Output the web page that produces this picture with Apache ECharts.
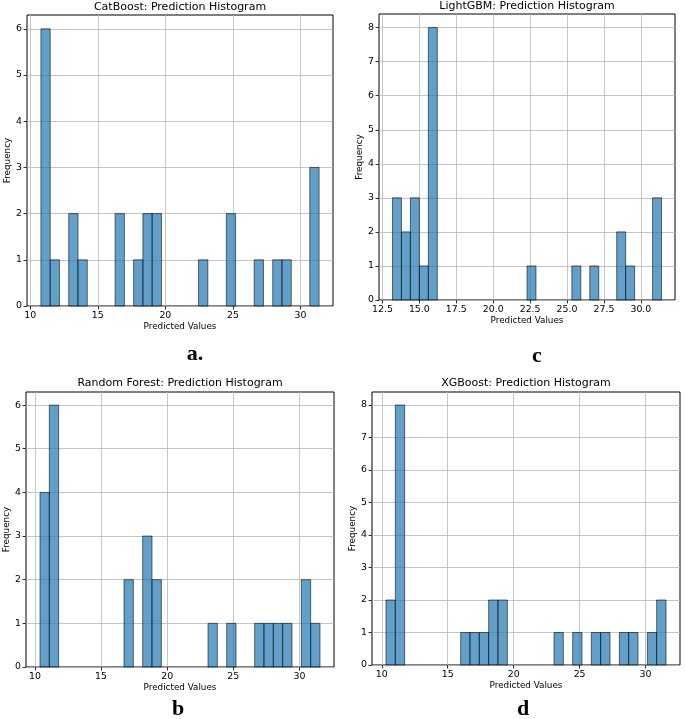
<!DOCTYPE html>
<html>
<head>
<meta charset="utf-8">
<script src="https://cdn.jsdelivr.net/npm/echarts@6/dist/echarts.min.js"></script>
<style>
html,body{margin:0;padding:0;background:#fff;}
#chart{width:685px;height:719px;}
</style>
</head>
<body>
<div id="chart"></div>
<script>
// ---- Data ----
const titles = [
  'CatBoost: Prediction Histogram',
  'LightGBM: Prediction Histogram',
  'Random Forest: Prediction Histogram',
  'XGBoost: Prediction Histogram'
];
const panelLetters = ['a.', 'c', 'b', 'd'];

// histogram range (first bin left edge, last bin right edge), 30 bins each
const catRange = [10.79, 31.38];
const lgbRange = [13.18, 31.40];
const rfRange  = [10.38, 31.56];
const xgbRange = [10.32, 31.55];

const catCounts = [6,1,0,2,1,0,0,0,2,0,1,2,2,0,0,0,0,1,0,0,2,0,0,1,0,1,1,0,0,3];
const lgbCounts = [3,2,3,1,8,0,0,0,0,0,0,0,0,0,0,1,0,0,0,0,1,0,1,0,0,2,1,0,0,3];
const rfCounts  = [4,6,0,0,0,0,0,0,0,2,0,3,2,0,0,0,0,0,1,0,1,0,0,1,1,1,1,0,2,1];
const xgbCounts = [2,8,0,0,0,0,0,0,1,1,1,2,2,0,0,0,0,0,1,0,1,0,1,1,0,1,1,0,1,2];

const xTicksA = [10, 15, 20, 25, 30];
const xTicksC = [12.5, 15, 17.5, 20, 22.5, 25, 27.5, 30];
const yTicks6 = [0, 1, 2, 3, 4, 5, 6];
const yTicks8 = [0, 1, 2, 3, 4, 5, 6, 7, 8];

// ---- Layout ----
const panels = [
  { range: catRange, counts: catCounts, xt: xTicksA, yt: yTicks6, ymax: 6.3, dec: 0,
    grid: { left: 27, top: 15, width: 306, height: 291 }, title: [180, 7], letter: [195, 354] },
  { range: lgbRange, counts: lgbCounts, xt: xTicksC, yt: yTicks8, ymax: 8.4, dec: 1,
    grid: { left: 379, top: 14, width: 296, height: 286 }, title: [527, 6], letter: [537, 356] },
  { range: rfRange, counts: rfCounts, xt: xTicksA, yt: yTicks6, ymax: 6.3, dec: 0,
    grid: { left: 26, top: 392, width: 308, height: 275 }, title: [180, 383], letter: [178, 709] },
  { range: xgbRange, counts: xgbCounts, xt: xTicksA, yt: yTicks8, ymax: 8.4, dec: 0,
    grid: { left: 372, top: 392, width: 308, height: 273 }, title: [526, 383], letter: [523, 709] }
];

const font = 'DejaVu Sans';
const tickFs = 9.4;
const grids = [], xAxes = [], yAxes = [], series = [], graphics = [];

panels.forEach((p, i) => {
  const nb = p.counts.length;
  const w = (p.range[1] - p.range[0]) / nb;
  const span = p.range[1] - p.range[0];
  const xmin = p.range[0] - 0.05 * span, xmax = p.range[1] + 0.05 * span;
  const data = p.counts.map((c, k) => [p.range[0] + k * w, p.range[0] + (k + 1) * w, c]);

  grids.push(Object.assign({ show: true, borderColor: '#000', borderWidth: 1, backgroundColor: 'transparent' }, p.grid));
  xAxes.push({
    type: 'value', gridIndex: i, min: xmin, max: xmax,
    name: 'Predicted Values', nameLocation: 'middle', nameGap: 16,
    nameTextStyle: { fontFamily: font, fontSize: 8.8, color: '#000' },
    axisLine: { show: false },
    axisTick: { show: true, length: 3.5, lineStyle: { color: '#000', width: 0.8 }, customValues: p.xt },
    axisLabel: { fontFamily: font, fontSize: tickFs, color: '#000', margin: 5,
      customValues: p.xt, formatter: v => Number(v).toFixed(p.dec) },
    splitLine: { show: true, lineStyle: { color: '#b8b8b8', width: 0.8 } }
  });
  yAxes.push({
    type: 'value', gridIndex: i, min: 0, max: p.ymax,
    name: 'Frequency', nameLocation: 'middle', nameGap: 14,
    nameTextStyle: { fontFamily: font, fontSize: 8.8, color: '#000' },
    axisLine: { show: false },
    axisTick: { show: true, length: 3.5, lineStyle: { color: '#000', width: 0.8 }, customValues: p.yt },
    axisLabel: { fontFamily: font, fontSize: tickFs, color: '#000', margin: 5, customValues: p.yt },
    splitLine: { show: true, lineStyle: { color: '#b8b8b8', width: 0.8 } }
  });
  series.push({
    type: 'custom', xAxisIndex: i, yAxisIndex: i, data: data,
    renderItem: function (params, api) {
      const cnt = api.value(2);
      if (!cnt) return;
      const p0 = api.coord([api.value(0), cnt]);
      const p1 = api.coord([api.value(1), 0]);
      return {
        type: 'rect',
        shape: { x: p0[0], y: p0[1], width: p1[0] - p0[0], height: p1[1] - p0[1] },
        style: { fill: 'rgba(31,119,180,0.7)', stroke: 'rgba(0,0,0,0.7)', lineWidth: 0.8 }
      };
    }
  });
  graphics.push({
    type: 'text', x: p.title[0], y: p.title[1],
    style: { text: titles[i], fontFamily: font, fontSize: 11, fill: '#000',
      textAlign: 'center', textVerticalAlign: 'middle' }
  });
  graphics.push({
    type: 'text', x: p.letter[0], y: p.letter[1],
    style: { text: panelLetters[i], fontFamily: 'Liberation Serif', fontWeight: 'bold', fontSize: 22, fill: '#000',
      textAlign: 'center', textVerticalAlign: 'middle' }
  });
});

const chart = echarts.init(document.getElementById('chart'), null, { renderer: 'canvas' });
chart.setOption({
  animation: false,
  backgroundColor: '#fff',
  grid: grids, xAxis: xAxes, yAxis: yAxes, series: series, graphic: graphics
});
</script>
</body>
</html>
